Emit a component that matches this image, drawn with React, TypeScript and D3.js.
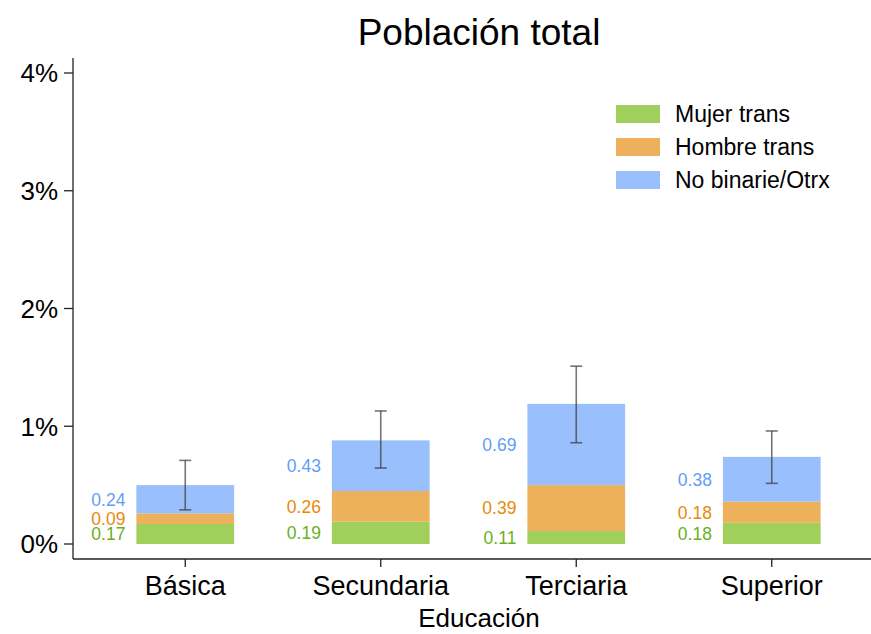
import React, { useEffect, useRef } from 'react';
import * as d3 from 'd3';

const categories = ['Básica', 'Secundaria', 'Terciaria', 'Superior'];
const series = ['Mujer trans', 'Hombre trans', 'No binarie/Otrx'];
const mujerTrans = [0.17, 0.19, 0.11, 0.18];
const hombreTrans = [0.09, 0.26, 0.39, 0.18];
const noBinarie = [0.24, 0.43, 0.69, 0.38];
const errLow = [0.29, 0.645, 0.86, 0.515];
const errHigh = [0.71, 1.13, 1.51, 0.96];
const yTicks = [0, 1, 2, 3, 4];

const fills = ['#a0cf5c', '#edb15c', '#99bffc'];
const textColors = ['#6ab01a', '#e8890c', '#5f9ef7'];

const App: React.FC = () => {
  const svgRef = useRef<SVGSVGElement>(null);
  const width = 871;
  const height = 634;

  useEffect(() => {
    const svg = d3.select(svgRef.current);
    svg.selectAll('*').remove();
    const font = 'Liberation Sans, Arial, Helvetica, sans-serif';

    const x = d3.scaleBand()
      .domain(categories)
      .range([87.5, 869.5])
      .paddingInner(0.5)
      .paddingOuter(0.25);

    const y = d3.scaleLinear().domain([0, 4]).range([544, 73]);

    // titulo
    svg.append('text')
      .attr('x', 479)
      .attr('y', 45)
      .attr('text-anchor', 'middle')
      .style('font-family', font)
      .style('font-size', '37px')
      .text('Población total');

    // stack
    const rows = categories.map((c, i) => ({
      cat: c,
      vals: [mujerTrans[i], hombreTrans[i], noBinarie[i]],
    }));

    rows.forEach(r => {
      let base = 0;
      r.vals.forEach((v, k) => {
        svg.append('rect')
          .attr('x', x(r.cat)!)
          .attr('y', y(base + v))
          .attr('width', x.bandwidth())
          .attr('height', y(base) - y(base + v))
          .attr('fill', fills[k]);
        svg.append('text')
          .attr('x', x(r.cat)! - 11)
          .attr('y', y(base + v / 2))
          .attr('dy', '0.36em')
          .attr('text-anchor', 'end')
          .attr('fill', textColors[k])
          .style('font-family', font)
          .style('font-size', '17.5px')
          .text(v.toFixed(2));
        base += v;
      });
    });

    // barras de error
    categories.forEach((c, i) => {
      const cx = x(c)! + x.bandwidth() / 2;
      const g = svg.append('g')
        .attr('stroke', '#3a3a3a')
        .attr('stroke-opacity', 0.7)
        .attr('stroke-width', 1.6);
      g.append('line').attr('x1', cx).attr('x2', cx).attr('y1', y(errLow[i])).attr('y2', y(errHigh[i]));
      g.append('line').attr('x1', cx - 6).attr('x2', cx + 6).attr('y1', y(errLow[i])).attr('y2', y(errLow[i]));
      g.append('line').attr('x1', cx - 6).attr('x2', cx + 6).attr('y1', y(errHigh[i])).attr('y2', y(errHigh[i]));
    });

    // ejes
    const axisColor = '#222';
    svg.append('line')
      .attr('x1', 73).attr('x2', 73).attr('y1', 58).attr('y2', 559)
      .attr('stroke', axisColor).attr('stroke-width', 1.3);
    svg.append('line')
      .attr('x1', 73).attr('x2', 871).attr('y1', 559).attr('y2', 559)
      .attr('stroke', axisColor).attr('stroke-width', 1.3);

    yTicks.forEach(t => {
      svg.append('line')
        .attr('x1', 64).attr('x2', 73).attr('y1', y(t)).attr('y2', y(t))
        .attr('stroke', axisColor).attr('stroke-width', 1.3);
      svg.append('text')
        .attr('x', 58)
        .attr('y', y(t))
        .attr('dy', '0.36em')
        .attr('text-anchor', 'end')
        .style('font-family', font)
        .style('font-size', '26px')
        .text(`${t}%`);
    });

    categories.forEach(c => {
      const cx = x(c)! + x.bandwidth() / 2;
      svg.append('line')
        .attr('x1', cx).attr('x2', cx).attr('y1', 559).attr('y2', 567)
        .attr('stroke', axisColor).attr('stroke-width', 1.3);
      svg.append('text')
        .attr('x', cx)
        .attr('y', 595)
        .attr('text-anchor', 'middle')
        .style('font-family', font)
        .style('font-size', '27px')
        .text(c);
    });

    svg.append('text')
      .attr('x', 479)
      .attr('y', 627)
      .attr('text-anchor', 'middle')
      .style('font-family', font)
      .style('font-size', '26px')
      .text('Educación');

    // leyenda
    series.forEach((s, k) => {
      const ly = 105 + k * 33;
      svg.append('rect')
        .attr('x', 616).attr('y', ly).attr('width', 44).attr('height', 18)
        .attr('fill', fills[k]);
      svg.append('text')
        .attr('x', 675)
        .attr('y', ly + 9)
        .attr('dy', '0.36em')
        .style('font-family', font)
        .style('font-size', '23px')
        .text(s);
    });
  }, []);

  return (
    <svg ref={svgRef} width={width} height={height}
      style={{ position: 'absolute', left: 0, top: 0 }} />
  );
};

export default App;
